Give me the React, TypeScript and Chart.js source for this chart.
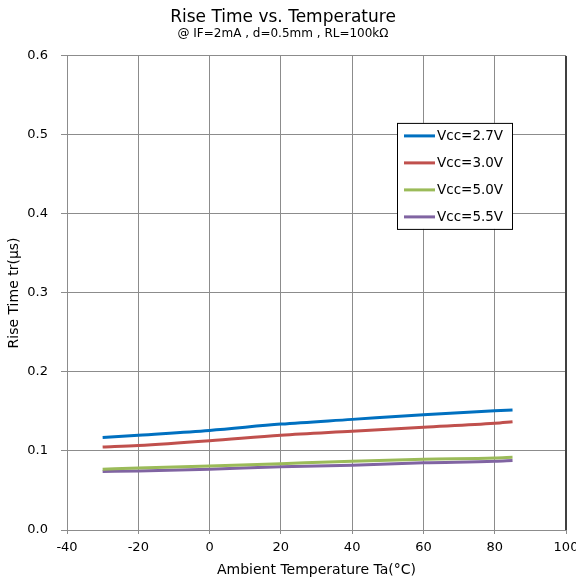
import React, { useEffect, useRef } from "react";
import { Chart, registerables } from "chart.js";

Chart.register(...registerables);

// ---- data ----
const temperatures = [-30, -20, 0, 20, 40, 60, 80, 85];
const vcc27 = [0.117, 0.12, 0.126, 0.134, 0.14, 0.146, 0.151, 0.152];
const vcc30 = [0.105, 0.107, 0.113, 0.12, 0.125, 0.13, 0.135, 0.137];
const vcc50 = [0.077, 0.0785, 0.081, 0.084, 0.087, 0.0895, 0.091, 0.092];
const vcc55 = [0.074, 0.0747, 0.077, 0.08, 0.082, 0.085, 0.087, 0.088];
const seriesLabels = ["Vcc=2.7V", "Vcc=3.0V", "Vcc=5.0V", "Vcc=5.5V"];
const seriesColors = ["#0070C0", "#C0504D", "#9BBB59", "#8064A2"];
const xMin = -40;
const xMax = 100;
const xStep = 20;
const yMin = 0;
const yMax = 0.6;
const yStep = 0.1;

const FONT = "'DejaVu Sans', 'Liberation Sans', Arial, sans-serif";
const GRID = "#8c8c8c";

const boxLegend = {
  id: "boxLegend",
  afterDatasetsDraw(chart: any) {
    const { ctx, chartArea } = chart;
    const left = chartArea.left + 330;
    const top = chartArea.top + 67;
    const w = 115;
    const h = 106;
    ctx.save();
    ctx.fillStyle = "#ffffff";
    ctx.fillRect(left, top, w, h);
    ctx.strokeStyle = "#000000";
    ctx.lineWidth = 1;
    ctx.strokeRect(left + 0.5, top + 0.5, w, h);
    ctx.font = `13.5px ${FONT}`;
    ctx.textBaseline = "middle";
    ctx.textAlign = "left";
    chart.data.datasets.forEach((ds: any, i: number) => {
      const yy = top + 13 + i * 27;
      ctx.strokeStyle = ds.borderColor;
      ctx.lineWidth = 3;
      ctx.beginPath();
      ctx.moveTo(left + 7, yy);
      ctx.lineTo(left + 38, yy);
      ctx.stroke();
      ctx.fillStyle = "#000000";
      ctx.fillText(ds.label, left + 40, yy + 1);
    });
    ctx.restore();
  },
};

const rightBorder = {
  id: "rightBorder",
  afterDraw(chart: any) {
    const { ctx, chartArea } = chart;
    ctx.save();
    ctx.strokeStyle = "#404040";
    ctx.lineWidth = 2;
    ctx.beginPath();
    ctx.moveTo(chartArea.right, chartArea.top);
    ctx.lineTo(chartArea.right, chartArea.bottom);
    ctx.stroke();
    ctx.restore();
  },
};

export default function App() {
  const ref = useRef<HTMLCanvasElement | null>(null);

  useEffect(() => {
    if (!ref.current) return;
    const series = [vcc27, vcc30, vcc50, vcc55];
    const chart = new Chart(ref.current, {
      type: "line",
      data: {
        datasets: series.map((vals, i) => ({
          label: seriesLabels[i],
          data: temperatures.map((t, j) => ({ x: t, y: vals[j] })),
          borderColor: seriesColors[i],
          backgroundColor: seriesColors[i],
          borderWidth: 3,
          pointRadius: 0,
          cubicInterpolationMode: "monotone" as const,
          fill: false,
        })),
      },
      options: {
        responsive: false,
        animation: false,
        devicePixelRatio: 1,
        layout: { padding: { left: 0, right: 10, top: 0, bottom: 0 } },
        plugins: {
          legend: { display: false },
          tooltip: { enabled: false },
          title: {
            display: true,
            text: "Rise Time vs. Temperature",
            color: "#000",
            font: { family: FONT, size: 17, weight: "normal", lineHeight: 1.1 },
            padding: { top: 8.5, bottom: 0 },
          },
          subtitle: {
            display: true,
            text: "@ IF=2mA , d=0.5mm , RL=100kΩ",
            color: "#000",
            font: { family: FONT, size: 12, weight: "normal", lineHeight: 1.1 },
            padding: { top: 0, bottom: 15.5 },
          },
        },
        scales: {
          x: {
            type: "linear",
            min: xMin,
            max: xMax,
            ticks: {
              stepSize: xStep,
              color: "#000",
              font: { family: FONT, size: 13 },
              padding: 6,
              maxRotation: 0,
            },
            grid: { color: GRID, lineWidth: 1, tickLength: 4 },
            border: { color: GRID, width: 1 },
            title: {
              display: true,
              text: "Ambient Temperature Ta(°C)",
              color: "#000",
              font: { family: FONT, size: 14 },
              padding: { top: 0, bottom: 4 },
            },
            afterFit(scale: any) {
              scale.height = 53;
              scale.paddingLeft = 0;
              scale.paddingRight = 0;
            },
          },
          y: {
            type: "linear",
            min: yMin,
            max: yMax,
            ticks: {
              stepSize: yStep,
              color: "#000",
              font: { family: FONT, size: 13 },
              padding: 13,
              callback: (v: any) => Number(v).toFixed(1),
            },
            grid: { color: GRID, lineWidth: 1, tickLength: 6 },
            border: { color: GRID, width: 1 },
            title: {
              display: true,
              text: "Rise Time tr(μs)",
              color: "#000",
              font: { family: FONT, size: 14 },
              padding: { top: 6, bottom: 0 },
            },
            afterFit(scale: any) {
              scale.width = 67;
              scale.paddingTop = 0;
              scale.paddingBottom = 0;
            },
          },
        },
      },
      plugins: [boxLegend, rightBorder],
    });
    return () => chart.destroy();
  }, []);

  return (
    <div style={{ position: "absolute", left: 0, top: 0, width: 576, height: 583, background: "#fff" }}>
      <canvas ref={ref} width={576} height={583} />
    </div>
  );
}
